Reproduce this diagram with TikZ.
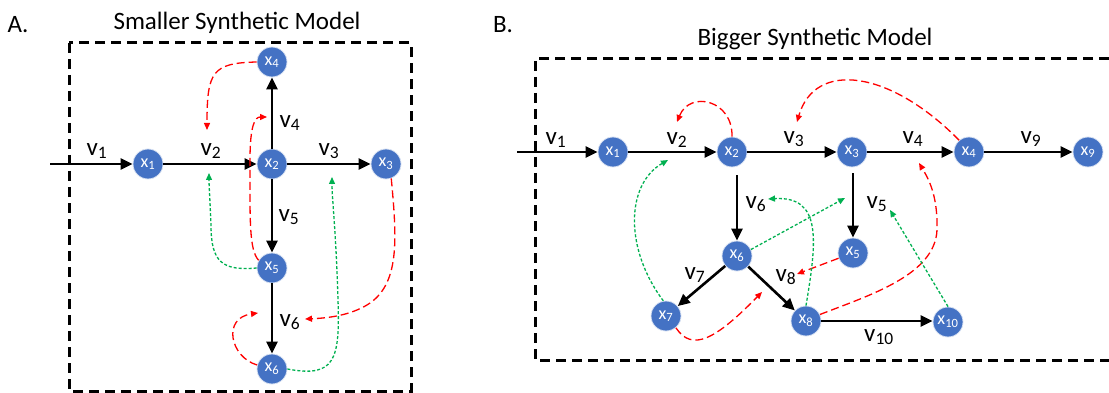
\documentclass[tikz,border=0pt]{standalone}
\usepackage{fontspec}
\setmainfont{Carlito}
\usetikzlibrary{arrows.meta}
\definecolor{nodeblue}{HTML}{4472C4}
\definecolor{nodeedge}{HTML}{D6E0F2}
\definecolor{fbred}{HTML}{FF0000}
\definecolor{fbgreen}{HTML}{00B050}
\newcommand\vlab[1]{v\textsubscript{#1}}
\newcommand\xlab[1]{x\textsubscript{#1}}
\tikzset{
  var/.style={circle, fill=nodeblue, draw=nodeedge, line width=0.8pt, minimum size=30pt, inner sep=0pt, text=white, font=\fontsize{18}{19}\selectfont},
  flux/.style={line width=2.6pt, -{Triangle[length=12pt,width=11pt]}},
  flab/.style={font=\fontsize{25}{28}\selectfont, inner sep=0pt},
  redfb/.style={fbred, line width=1.3pt, dash pattern=on 8pt off 4pt, -{Triangle[length=7pt,width=6pt]}},
  greenfb/.style={fbgreen, line width=1.3pt, dash pattern=on 3pt off 2pt, -{Triangle[length=7pt,width=6pt]}},
  frame/.style={line width=3pt, dash pattern=on 10pt off 6pt},
  ttl/.style={font=\fontsize{25}{28}\selectfont, inner sep=0pt}
}
\begin{document}
\begin{tikzpicture}[x=1pt,y=-1pt]
\useasboundingbox (0,0) rectangle (1109,393);
% ---------------- Panel A ----------------
\node[ttl] (lA) at (18,25) {A.};
\node[ttl] (tA) at (237,23) {Smaller Synthetic Model};
\draw[frame] (69,43) rectangle (411,391);
\node[var] (a1) at (148,164) {\xlab{1}};
\node[var] (a2) at (272,164) {\xlab{2}};
\node[var] (a3) at (386,164) {\xlab{3}};
\node[var] (a4) at (272,62) {\xlab{4}};
\node[var] (a5) at (272,268) {\xlab{5}};
\node[var] (a6) at (272,369) {\xlab{6}};
\coordinate (a0) at (50,164);
\draw[flux] (a0) -- (a1.west);
\draw[flux] (a1) -- (a2);
\draw[flux] (a2) -- (a3);
\draw[flux] (a2) -- (a4);
\draw[flux] (a2) -- (a5);
\draw[flux] (a5) -- (a6);
\node[flab] (av1) at (97,151) {\vlab{1}};
\node[flab] (av2) at (211,151) {\vlab{2}};
\node[flab] (av3) at (329,151) {\vlab{3}};
\node[flab] (av4) at (290,123) {\vlab{4}};
\node[flab] (av5) at (289,217) {\vlab{5}};
\node[flab] (av6) at (290,322) {\vlab{6}};
\coordinate (ar1e) at (207,130);
\coordinate (ar2e) at (267,117);
\coordinate (ag1e) at (209,173);
\coordinate (ag2e) at (332,177);
\coordinate (ar3e) at (305,319);
\coordinate (ar4e) at (258,313);
\draw[redfb] (a4.west) .. controls (212,63) and (207,72) .. (ar1e);
\draw[redfb] (a5.150) .. controls (249,250) and (250,220) .. (250,160) .. controls (250,125) and (255,117) .. (ar2e);
\draw[greenfb] (a5.west) .. controls (222,271) and (211,262) .. (211,225) .. controls (210,200) and (209,185) .. (ag1e);
\draw[greenfb] (a6.east) .. controls (335,378) and (340,360) .. (338,300) .. controls (336,230) and (332,200) .. (ag2e);
\draw[redfb] (a3.-70) .. controls (397,240) and (400,285) .. (367,305) .. controls (350,315) and (330,318) .. (ar3e);
\draw[redfb] (a6.165) .. controls (230,357) and (222,318) .. (ar4e);
% ---------------- Panel B ----------------
\node[ttl] (lB) at (503,25) {B.};
\node[ttl] (tB) at (815,39) {Bigger Synthetic Model};
\draw[frame] (1109,59) -- (535,59) -- (535,360) -- (1109,360);
\node[var] (b1) at (613,152) {\xlab{1}};
\node[var] (b2) at (732,152) {\xlab{2}};
\node[var] (b3) at (852,152) {\xlab{3}};
\node[var] (b4) at (969,152) {\xlab{4}};
\node[var] (b9) at (1088,152) {\xlab{9}};
\node[var] (b6) at (737,256) {\xlab{6}};
\node[var] (b5) at (853,253) {\xlab{5}};
\node[var] (b7) at (666,316) {\xlab{7}};
\node[var] (b8) at (806,321) {\xlab{8}};
\node[var] (b10) at (948,322) {\xlab{10}};
\coordinate (b0) at (517,152);
\draw[flux] (b0) -- (b1.west);
\draw[flux] (b1) -- (b2);
\draw[flux] (b2) -- (b3);
\draw[flux] (b3) -- (b4);
\draw[flux] (b4) -- (b9);
\draw[flux] ([yshift=-8pt]b6.north |- b2.south) -- (b6.north);
\draw[flux] ([yshift=-6pt]b5.north |- b3.south) -- (b5.north);
\draw[flux] (b6) -- (b7);
\draw[flux] (b6) -- (b8);
\draw[flux] (b8.east) -- (b8.east -| b10.west);
\node[flab] (bv1) at (556,140) {\vlab{1}};
\node[flab] (bv2) at (677,140) {\vlab{2}};
\node[flab] (bv3) at (794,139) {\vlab{3}};
\node[flab] (bv4) at (913,139) {\vlab{4}};
\node[flab] (bv9) at (1031,139) {\vlab{9}};
\node[flab] (bv6) at (756,204) {\vlab{6}};
\node[flab] (bv5) at (877,204) {\vlab{5}};
\node[flab] (bv7) at (695,275) {\vlab{7}};
\node[flab] (bv8) at (786,277) {\vlab{8}};
\node[flab] (bv10) at (879,337) {\vlab{10}};
\coordinate (br1e) at (677,122);
\coordinate (br2e) at (797,122);
\coordinate (br3e) at (919,163);
\coordinate (br4e) at (762,292);
\coordinate (br5e) at (797,274);
\coordinate (bg1e) at (668,160);
\coordinate (bg2e) at (845,198);
\coordinate (bg3e) at (768,199);
\coordinate (bg4e) at (890,210);
\draw[redfb] (b2.north) .. controls (733,100) and (690,90) .. (br1e);
\draw[redfb] (b4.130) .. controls (890,70) and (815,60) .. (br2e);
\draw[redfb] (b8.25) .. controls (870,295) and (935,275) .. (937,230) .. controls (938,195) and (928,178) .. (br3e);
\draw[redfb] (b7.-50) .. controls (692,352) and (715,340) .. (br4e);
\draw[redfb] (b5.200) -- (br5e);
\draw[greenfb] (b7.100) .. controls (625,250) and (625,185) .. (bg1e);
\draw[greenfb] (b6.25) -- (bg2e);
\draw[greenfb] (b8.north) .. controls (817,240) and (822,196) .. (bg3e);
\draw[greenfb] (b10.north) -- (bg4e);
\end{tikzpicture}
\end{document}
